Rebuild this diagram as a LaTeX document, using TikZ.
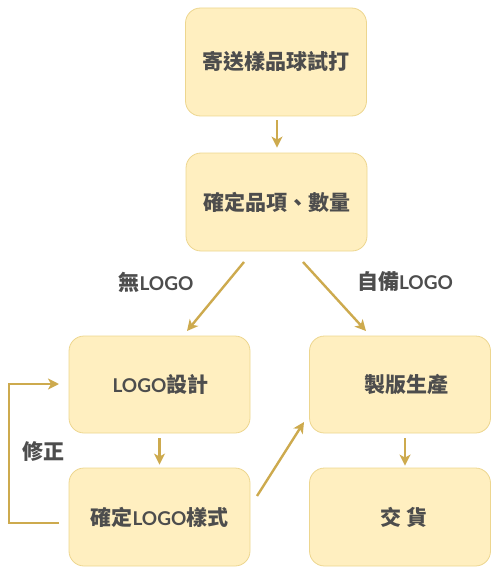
\documentclass[tikz,border=0pt]{standalone}
\usepackage{fontspec}
\setmainfont{Noto Sans CJK TC}
\newfontfamily\latinfont{Lato}
\usetikzlibrary{arrows.meta,calc}
\definecolor{boxfill}{HTML}{FFEFC0}
\definecolor{boxline}{HTML}{EDD68F}
\definecolor{arrowc}{HTML}{CDAA4E}
\definecolor{txt}{HTML}{4D4D4D}
\newcommand{\LG}{{\latinfont\bfseries\fontsize{19}{22}\selectfont L\kern-0.5pt OGO}}
\tikzset{
  stepbox/.style={draw=boxline, line width=0.8pt, fill=boxfill, rounded corners=15pt,
    minimum width=181pt, text=txt, font=\fontsize{21}{24}\selectfont\bfseries, inner sep=0pt},
  conn/.style={draw=arrowc, line width=2.4pt, -{Stealth[length=11pt,width=11pt,inset=3pt]}},
  lbl/.style={text=txt, font=\fontsize{21}{24}\selectfont\bfseries, inner sep=0pt}
}
\begin{document}
\begin{tikzpicture}[x=1pt,y=-1pt]
\useasboundingbox (0,0) rectangle (501,583);
\node[stepbox, minimum height=108pt] (b1) at (276,62) {寄送樣品球試打};
\node[stepbox, minimum height=98pt] (b2) at (276.5,202) {確定品項、數量};
\node[stepbox, minimum height=97pt] (b3) at (159.5,384.5) {\hspace*{2pt}\LG 設計};
\node[stepbox, minimum height=98pt] (b4) at (159.5,517) {確定\LG 樣式};
\node[stepbox, minimum height=97pt] (b5) at (400,384.5) {\hspace*{12pt}製版生產};
\node[stepbox, minimum height=98pt] (b6) at (400,517) {\hspace*{8pt}交\ 貨};
\coordinate (a1s) at (244,262);
\coordinate (a1e) at (187,331);
\coordinate (a2s) at (303,262);
\coordinate (a2e) at (366,331);
\coordinate (a3s) at (257,496);
\coordinate (a3e) at (304,422);
\coordinate (l1) at (59,523);
\coordinate (l2) at (9,523);
\coordinate (l3) at (9,384);
\coordinate (l4) at (59,384);
\draw[conn, shorten <=4pt, shorten >=5pt] ([xshift=1pt]b1.south) -- ([xshift=0.5pt]b2.north);
\draw[conn] (a1s) -- (a1e);
\draw[conn] (a2s) -- (a2e);
\draw[conn, shorten <=5pt, shorten >=3pt] (b3.south) -- (b4.north);
\draw[conn, shorten <=5pt, shorten >=2pt] ([xshift=5pt]b5.south) -- ([xshift=5pt]b6.north);
\draw[conn] (a3s) -- (a3e);
\draw[conn, -{Stealth[length=11pt,width=11pt,inset=3pt]}] (l1) -- (l2) -- (l3) -- (l4);
\node[lbl] (t1) at (156,282) {無\LG};
\node[lbl] (t2) at (405,282) {自備\LG};
\node[lbl] (t3) at (43,451) {修正};
\end{tikzpicture}
\end{document}
